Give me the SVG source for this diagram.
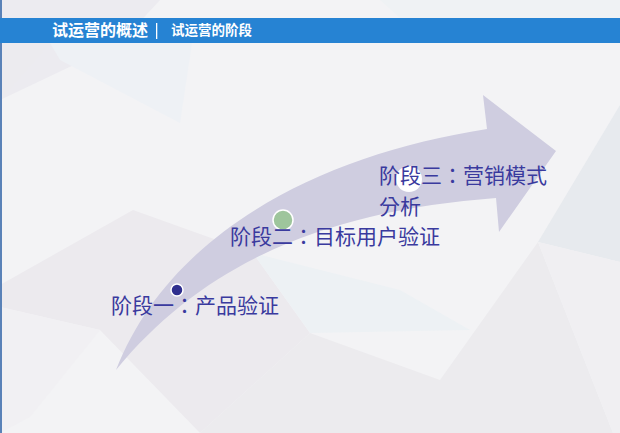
<svg xmlns="http://www.w3.org/2000/svg" width="620" height="433" viewBox="0 0 620 433">
<style>
.facet{stroke:none}
.stage{font-family:"Noto Sans CJK TC","Noto Sans CJK SC","Liberation Sans",sans-serif;font-size:21px;fill:#3a3a9e}
.hdr{font-family:"Noto Sans CJK SC","Liberation Sans",sans-serif;fill:#ffffff;font-weight:bold}
</style>
<g id="background">
<rect x="0" y="0" width="620" height="433" fill="#f3f3f5"/>
<polygon class="facet" points="0,0 160,0 120,43 0,100" fill="#ecebf0"/>
<polygon class="facet" points="50,43 192,43 180,123 60,60" fill="#eef1f5"/>
<polygon class="facet" points="0,43 50,43 0,100" fill="#ecebef"/>
<polygon class="facet" points="0,285 133,210 253,253 310,333 200,433 100,330 0,307" fill="#eceaee"/>
<polygon class="facet" points="253,253 400,290 470,330 310,333" fill="#edf1f4"/>
<polygon class="facet" points="310,333 440,380 538,242 613,433 200,433" fill="#ecebee"/>
<polygon class="facet" points="620,105 538,242 620,262" fill="#e7eaee"/>
<polygon class="facet" points="538,242 620,262 620,433 613,433" fill="#f0eff2"/>
<polygon class="facet" points="380,0 620,0 620,18 400,18" fill="#eff2f4"/>
<polygon class="facet" points="0,307 100,330 30,417 0,433" fill="#f1f0f3"/>
</g>
<rect x="0" y="0" width="2" height="433" fill="#5a82b8"/>
<g id="header">
<rect x="0" y="18" width="620" height="25" fill="#2683d3"/>
<text class="hdr" x="52" y="36" font-size="16">试运营的概述</text>
<rect x="156" y="23" width="1.3" height="16" fill="#ffffff"/>
<text class="hdr" x="171" y="35" font-size="13.5">试运营的阶段</text>
</g>
<g id="connectors">
<path d="M116,370 C170,232 320,155 487,129 L483,95 L556,151 L499,232 L496,198 C340,210 210,255 116,370 Z" fill="#cfcde0"/>
</g>
<g id="stage1">
<circle cx="177" cy="290" r="6" fill="#2f2f8f" stroke="#ffffff" stroke-width="1.5"/>
<text class="stage" x="111" y="313">阶段一：产品验证</text>
</g>
<g id="stage2">
<circle cx="283" cy="220" r="10" fill="#9ec59c" stroke="#ffffff" stroke-width="1.5"/>
<text class="stage" x="230" y="244">阶段二：目标用户验证</text>
</g>
<g id="stage3">
<circle cx="409" cy="179" r="13" fill="#ffffff"/>
<text class="stage" x="379" y="183">阶段三：营销模式</text>
<text class="stage" x="379" y="214">分析</text>
</g>
</svg>
